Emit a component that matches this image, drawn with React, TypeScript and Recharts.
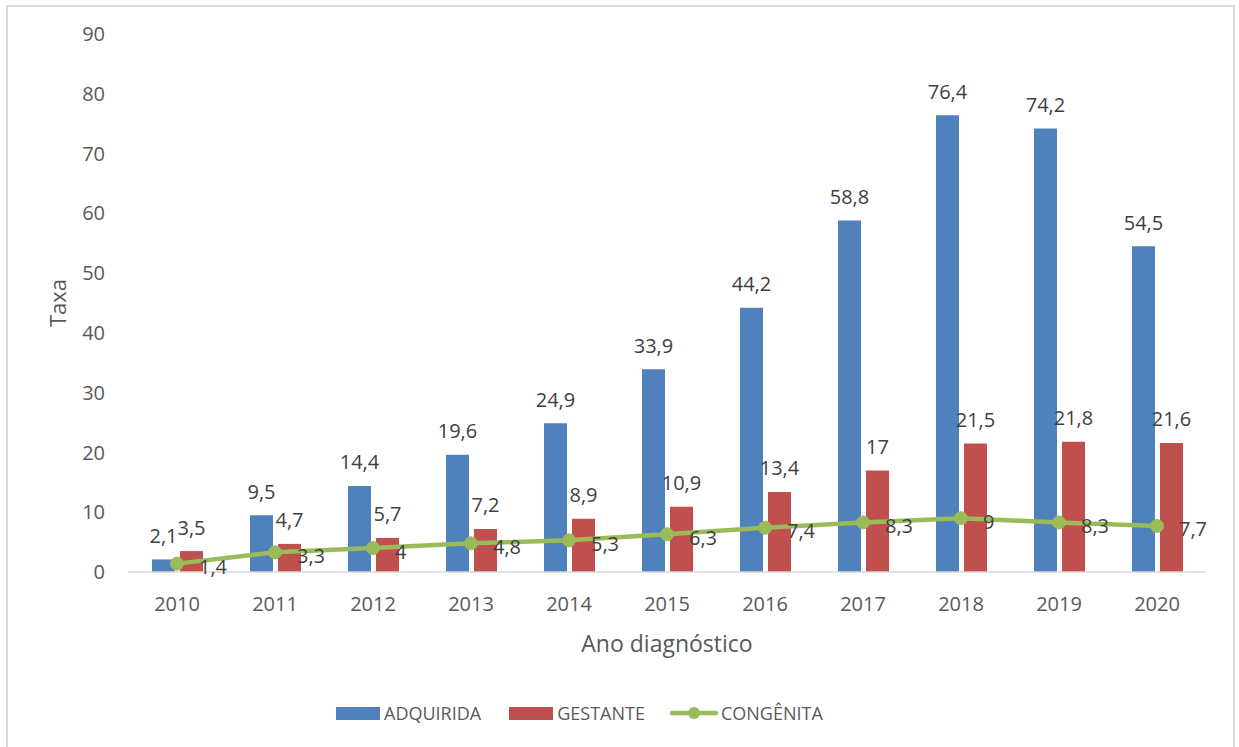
import React from 'react';
import {
  ComposedChart,
  Bar,
  Line,
  XAxis,
  YAxis,
  Legend,
  LabelList,
} from 'recharts';

const years = ['2010', '2011', '2012', '2013', '2014', '2015', '2016', '2017', '2018', '2019', '2020'];
const adquirida = [2.1, 9.5, 14.4, 19.6, 24.9, 33.9, 44.2, 58.8, 76.4, 74.2, 54.5];
const gestante = [3.5, 4.7, 5.7, 7.2, 8.9, 10.9, 13.4, 17, 21.5, 21.8, 21.6];
const congenita = [1.4, 3.3, 4, 4.8, 5.3, 6.3, 7.4, 8.3, 9, 8.3, 7.7];
const yTicks = [0, 10, 20, 30, 40, 50, 60, 70, 80, 90];

const data = years.map((y, i) => ({
  year: y,
  ADQUIRIDA: adquirida[i],
  GESTANTE: gestante[i],
  'CONGÊNITA': congenita[i],
}));

const FONT = '"Open Sans", sans-serif';
const BLUE = '#4F81BD';
const RED = '#C0504D';
const GREEN = '#9BBB59';

const fmt = (v: number) => String(v).replace('.', ',');

const BarLabel = (props: any) => {
  const { x, y, width, value } = props;
  return (
    <text
      x={x + width / 2}
      y={y - 24}
      textAnchor="middle"
      dominantBaseline="central"
      fontFamily={FONT}
      fontSize={20}
      fill="#404040"
    >
      {fmt(value)}
    </text>
  );
};

const LineLabel = (props: any) => {
  const { x, y, value } = props;
  return (
    <text
      x={x + 22}
      y={y + 3}
      textAnchor="start"
      dominantBaseline="central"
      fontFamily={FONT}
      fontSize={20}
      fill="#404040"
    >
      {fmt(value)}
    </text>
  );
};

const LegendContent = () => (
  <div
    style={{
      display: 'flex',
      alignItems: 'center',
      height: 26,
      fontFamily: FONT,
      fontSize: 18,
      color: '#595959',
      whiteSpace: 'nowrap',
    }}
  >
    <span style={{ display: 'inline-block', width: 44, height: 13, background: BLUE, marginRight: 4 }} />
    <span style={{ marginRight: 28 }}>ADQUIRIDA</span>
    <span style={{ display: 'inline-block', width: 44, height: 13, background: RED, marginRight: 4 }} />
    <span style={{ marginRight: 25 }}>GESTANTE</span>
    <svg width={48} height={16} style={{ marginRight: 3 }}>
      <line x1={2} y1={8} x2={46} y2={8} stroke={GREEN} strokeWidth={4.5} strokeLinecap="round" />
      <circle cx={24} cy={8} r={6} fill={GREEN} />
    </svg>
    <span>CONGÊNITA</span>
  </div>
);

export default function App() {
  return (
    <div style={{ position: 'absolute', left: 0, top: 0, width: 1239, height: 747, background: '#fff', overflow: 'hidden' }}>
      <div
        style={{
          position: 'absolute',
          left: 6,
          top: 5,
          width: 1229,
          height: 800,
          border: '2px solid #d9d9d9',
          boxSizing: 'border-box',
        }}
      />
      <div style={{ position: 'absolute', left: 0, top: 0 }}>
        <ComposedChart
          width={1239}
          height={747}
          data={data}
          margin={{ top: 34, right: 33, bottom: 0, left: 0 }}
          barSize={23}
          barGap={5}
        >
          <XAxis
            dataKey="year"
            height={149}
            axisLine={{ stroke: '#d9d9d9', strokeWidth: 1.5 }}
            tickLine={false}
            tickSize={0}
            tickMargin={25}
            tick={{ fontFamily: FONT, fontSize: 20, fill: '#595959' }}
            label={{
              content: (p: any) => {
                const vb = p.viewBox;
                return (
                  <text
                    x={vb.x + vb.width / 2}
                    y={vb.y + 71}
                    textAnchor="middle"
                    dominantBaseline="central"
                    fontFamily={FONT}
                    fontSize={23}
                    fill="#595959"
                  >
                    Ano diagnóstico
                  </text>
                );
              },
            }}
          />
          <YAxis
            width={128}
            domain={[0, 90]}
            ticks={yTicks}
            interval={0}
            axisLine={false}
            tickLine={false}
            tickSize={0}
            tickMargin={23}
            tick={{ fontFamily: FONT, fontSize: 20, fill: '#595959' }}
            label={{
              content: (p: any) => {
                const vb = p.viewBox;
                const cy = vb.y + vb.height / 2;
                return (
                  <text
                    x={57}
                    y={cy}
                    textAnchor="middle"
                    dominantBaseline="central"
                    transform={`rotate(-90, 57, ${cy})`}
                    fontFamily={FONT}
                    fontSize={22}
                    fill="#595959"
                  >
                    Taxa
                  </text>
                );
              },
            }}
          />
          <Legend
            content={<LegendContent />}
            wrapperStyle={{ position: 'absolute', left: 336, top: 700, width: 'auto', height: 26 }}
          />
          <Bar dataKey="ADQUIRIDA" fill={BLUE} isAnimationActive={false}>
            <LabelList dataKey="ADQUIRIDA" content={<BarLabel />} />
          </Bar>
          <Bar dataKey="GESTANTE" fill={RED} isAnimationActive={false}>
            <LabelList dataKey="GESTANTE" content={<BarLabel />} />
          </Bar>
          <Line
            dataKey="CONGÊNITA"
            stroke={GREEN}
            strokeWidth={4.5}
            dot={{ r: 6.5, fill: GREEN, stroke: GREEN, strokeWidth: 1 }}
            activeDot={false}
            isAnimationActive={false}
          >
            <LabelList dataKey="CONGÊNITA" content={<LineLabel />} />
          </Line>
        </ComposedChart>
      </div>
    </div>
  );
}
